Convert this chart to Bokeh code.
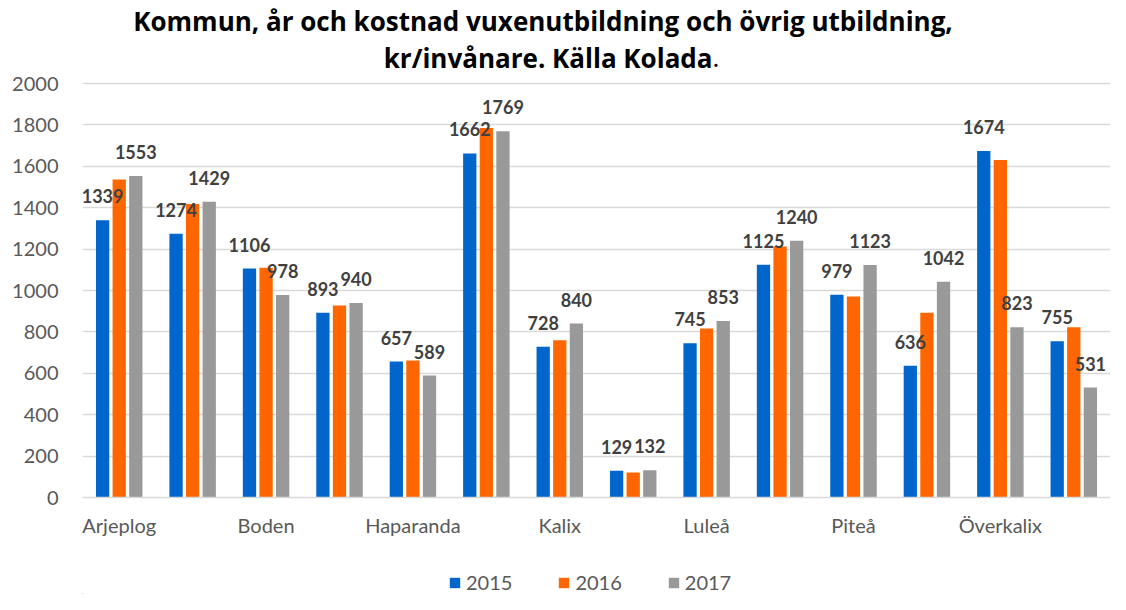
from bokeh.plotting import figure
from bokeh.models import (ColumnDataSource, LabelSet, Label, Legend, LegendItem,
                          FixedTicker)
from bokeh.core.properties import value
from bokeh.layouts import column
from bokeh.transform import dodge
from bokeh.embed import file_html
from bokeh.resources import INLINE

kommuner = ["Arjeplog", "Arvidsjaur", "Boden", "Gällivare", "Haparanda", "Jokkmokk",
            "Kalix", "Kiruna", "Luleå", "Pajala", "Piteå", "Älvsbyn", "Överkalix", "Övertorneå"]
v2015 = [1339, 1274, 1106, 893, 657, 1662, 728, 129, 745, 1125, 979, 636, 1674, 755]
v2016 = [1536, 1418, 1110, 928, 662, 1785, 760, 121, 816, 1213, 971, 893, 1630, 823]
v2017 = [1553, 1429, 978, 940, 589, 1769, 840, 132, 853, 1240, 1123, 1042, 823, 531]
years = ["2015", "2016", "2017"]
colors = ["#0066CC", "#FF6600", "#999999"]
y_ticks = [0, 200, 400, 600, 800, 1000, 1200, 1400, 1600, 1800, 2000]
title_line1 = "Kommun, år och kostnad vuxenutbildning och övrig utbildning,"
title_line2 = "kr/invånare. Källa Kolada"
title_end = "."

src = ColumnDataSource(dict(
    x=list(range(len(kommuner))), name=kommuner,
    v2015=v2015, v2016=v2016, v2017=v2017,
    l2015=[str(v) for v in v2015], l2017=[str(v) for v in v2017],
))

FONT = "Lato"
TFONT = "Open Sans"
LEFT = 82
W = 1110
H_MAIN = 548
BOTTOM = 51
FRAME_H = H_MAIN - BOTTOM          # frame spans the canvas top down to the x axis
PX_PER_UNIT = 414 / 2000           # 0..2000 occupies 414 px, as in the reference
Y_TOP = FRAME_H / PX_PER_UNIT      # headroom above 2000 holds the title


def blank(fig):
    fig.axis.visible = False
    fig.grid.grid_line_color = None
    fig.outline_line_color = None


# ---- main chart ----
p = figure(width=W, height=H_MAIN, x_range=(-0.5, 13.5), y_range=(0, Y_TOP),
           output_backend="svg", toolbar_location=None,
           min_border_left=LEFT, min_border_right=0, min_border_top=0, min_border_bottom=BOTTOM)
p.outline_line_color = None
p.background_fill_color = "white"

# title (two lines; the final period is not bold, as in the reference)
p.add_layout(Label(x=460.5, y=FRAME_H - 20, x_units="screen", y_units="screen",
                   text=title_line1, text_align="center", text_baseline="alphabetic",
                   text_font=TFONT, text_font_size="26px", text_font_style="bold",
                   text_color="#000000"))
p.add_layout(Label(x=630, y=FRAME_H - 57, x_units="screen", y_units="screen",
                   text=title_line2, text_align="right", text_baseline="alphabetic",
                   text_font=TFONT, text_font_size="26px", text_font_style="bold",
                   text_color="#000000"))
p.add_layout(Label(x=630, y=FRAME_H - 57, x_units="screen", y_units="screen",
                   text=title_end, text_align="left", text_baseline="alphabetic",
                   text_font=TFONT, text_font_size="26px", text_font_style="normal",
                   text_color="#000000"))

offsets = [-0.226, 0.0, 0.226]
fields = ["v2015", "v2016", "v2017"]
for f, off, c in zip(fields, offsets, colors):
    p.vbar(x=dodge("x", off), top=f, width=0.181, source=src,
           fill_color=c, line_color=None)

for f, lab, off in [("v2015", "l2015", -0.226), ("v2017", "l2017", 0.226)]:
    ls = LabelSet(x=dodge("x", off), y=f, text=lab, source=src, y_offset=24,
                  text_align="center", text_baseline="middle", text_font=value(FONT),
                  text_font_style="bold", text_font_size="18px", text_color="#404040")
    p.add_layout(ls)

p.yaxis.ticker = FixedTicker(ticks=y_ticks)
p.yaxis.axis_line_color = None
p.yaxis.major_tick_line_color = None
p.yaxis.minor_tick_line_color = None
p.yaxis.major_tick_out = 0
p.yaxis.major_label_standoff = 24
p.yaxis.major_label_text_font = FONT
p.yaxis.major_label_text_font_size = "20px"
p.yaxis.major_label_text_color = "#595959"

p.xaxis.ticker = FixedTicker(ticks=list(range(0, len(kommuner), 2)))
p.xaxis.major_label_overrides = {i: kommuner[i] for i in range(0, len(kommuner), 2)}
p.xaxis.axis_line_color = "#d9d9d9"
p.xaxis.axis_line_width = 1.5
p.xaxis.major_tick_line_color = None
p.xaxis.minor_tick_line_color = None
p.xaxis.major_tick_out = 0
p.xaxis.major_tick_in = 0
p.xaxis.major_label_standoff = 15
p.xaxis.major_label_text_font = FONT
p.xaxis.major_label_text_font_size = "20px"
p.xaxis.major_label_text_color = "#595959"

p.xgrid.grid_line_color = None
p.ygrid.grid_line_color = "#d9d9d9"
p.ygrid.grid_line_width = 1.5

# ---- legend strip ----
pl = figure(width=W, height=46, x_range=(0, W - LEFT), y_range=(0, 46),
            output_backend="svg", toolbar_location=None,
            min_border_left=LEFT, min_border_right=0, min_border_top=0, min_border_bottom=0)
blank(pl)
leg_renderers = [pl.vbar(x=[-100], top=[1], width=1, fill_color=c, line_color=None)
                 for c in colors]
legend = Legend(items=[LegendItem(label=y, renderers=[r]) for y, r in zip(years, leg_renderers)],
                orientation="horizontal", location=(366, 0), padding=0, margin=0,
                spacing=45, glyph_width=13, glyph_height=13, label_standoff=5,
                label_text_font=FONT, label_text_font_size="20px",
                label_text_color="#595959", border_line_color=None,
                background_fill_alpha=0)
pl.add_layout(legend)

open("out.html", "w").write(file_html(column(p, pl, spacing=0), INLINE))
